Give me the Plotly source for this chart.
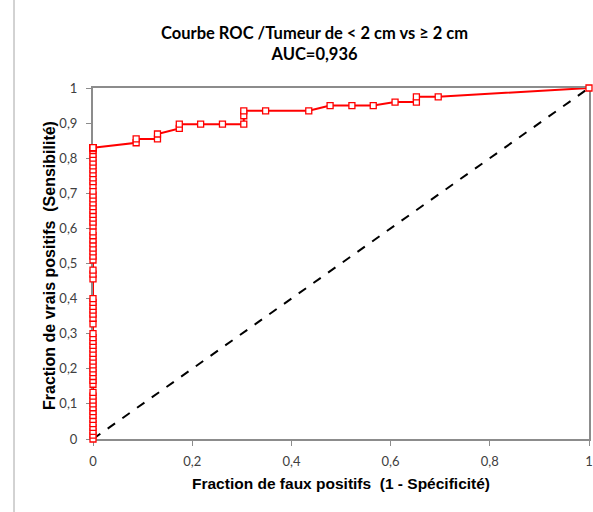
import plotly.graph_objects as go

# ROC points (1 - specificity, sensitivity)
fpr = [0.0] * 74 + [
    0.087, 0.087, 0.130, 0.130, 0.174, 0.174, 0.217, 0.261, 0.304, 0.304, 0.304,
    0.348, 0.435, 0.478, 0.522, 0.565, 0.609, 0.652, 0.652, 0.696, 1.0]

tpr_col = [
    0.0, 0.011, 0.022, 0.033, 0.044, 0.056, 0.067, 0.078, 0.089, 0.100, 0.111, 0.122, 0.133,
    0.156, 0.167, 0.178, 0.189, 0.200, 0.211, 0.222, 0.233, 0.244, 0.256, 0.267, 0.278, 0.289, 0.300,
    0.328, 0.344, 0.356, 0.367, 0.378, 0.389, 0.400,
    0.456, 0.470, 0.481,
    0.510, 0.521, 0.533, 0.544, 0.556, 0.567, 0.579, 0.590,
    0.607, 0.618, 0.629, 0.640, 0.651, 0.662, 0.673, 0.684, 0.695, 0.706,
    0.722, 0.733, 0.744, 0.756, 0.767, 0.778, 0.789, 0.800, 0.811, 0.822, 0.830,
    0.830, 0.830, 0.830, 0.830, 0.830, 0.830, 0.830, 0.830]
tpr_top = [
    0.844, 0.855, 0.855, 0.869, 0.885, 0.897, 0.897, 0.897, 0.897, 0.921, 0.935,
    0.935, 0.935, 0.950, 0.950, 0.950, 0.960, 0.960, 0.975, 0.975, 1.0]
tpr = tpr_col + tpr_top

diag_x = [0, 1]
diag_y = [0, 1]

x_ticks = [0, 0.2, 0.4, 0.6, 0.8, 1]
x_labels = ["0", "0,2", "0,4", "0,6", "0,8", "1"]
y_ticks = [0, 0.1, 0.2, 0.3, 0.4, 0.5, 0.6, 0.7, 0.8, 0.9, 1]
y_labels = ["0", "0,1", "0,2", "0,3", "0,4", "0,5", "0,6", "0,7", "0,8", "0,9", "1"]

title_l1 = "Courbe ROC /Tumeur de < 2 cm vs ≥ 2 cm"
title_l2 = "AUC=0,936"
x_title = "Fraction de faux positifs  (1 - Spécificité)"
y_title = "Fraction de vrais positifs  (Sensibilité)"

fig = go.Figure()
fig.add_trace(go.Scatter(
    x=diag_x, y=diag_y, mode="lines",
    line=dict(color="black", width=2, dash="dash"),
    hoverinfo="skip", showlegend=False))
fig.add_trace(go.Scatter(
    x=fpr, y=tpr, mode="lines+markers",
    line=dict(color="#FF0000", width=2),
    marker=dict(symbol="square", size=6, color="white",
                line=dict(color="#FF0000", width=1.3)),
    cliponaxis=False,
    showlegend=False))

W, H = 593, 512
L, R, T, B = 93, 4, 88, 73
pw, ph = W - L - R, H - T - B

def px(xp):
    return (xp - L) / pw

def py(yp):
    return (H - B - yp) / ph

axis_common = dict(
    showline=True, linecolor="#8c8c8c", linewidth=2, mirror=True,
    showgrid=False, zeroline=False, layer="below traces",
    ticks="outside", ticklen=5, tickcolor="#8c8c8c", tickwidth=1,
    tickfont=dict(family="Lato, Open Sans, sans-serif", size=13, color="#404040"),
)

fig.update_layout(
    width=W, height=H,
    margin=dict(l=L, r=R, t=T, b=B, autoexpand=False),
    paper_bgcolor="white", plot_bgcolor="white",
    xaxis=dict(range=[0, 1], tickvals=x_ticks, ticktext=x_labels,
               ticklabelstandoff=4, **axis_common),
    yaxis=dict(range=[0, 1], tickvals=y_ticks, ticktext=y_labels,
               ticklabelstandoff=6, **axis_common),
    annotations=[
        dict(text="<b>" + title_l1 + "</b><br><b>" + title_l2 + "</b>",
             xref="paper", yref="paper", x=px(314), y=py(43),
             xanchor="center", yanchor="middle", showarrow=False,
             font=dict(family="Lato, Open Sans, sans-serif", size=16.5, color="black")),
        dict(text="<b>" + x_title + "</b>",
             xref="paper", yref="paper", x=px(341), y=py(483),
             xanchor="center", yanchor="middle", showarrow=False,
             font=dict(family="Liberation Sans, Arial, sans-serif", size=15.5, color="black")),
        dict(text="<b>" + y_title + "</b>", textangle=-90,
             xref="paper", yref="paper", x=px(49), y=py(266),
             xanchor="center", yanchor="middle", showarrow=False,
             font=dict(family="Liberation Sans, Arial, sans-serif", size=16, color="black")),
    ],
    shapes=[
        dict(type="line", xref="paper", yref="paper",
             x0=px(14), x1=px(14), y0=py(512), y1=py(0),
             line=dict(color="#a6a6a6", width=1)),
    ],
)

fig.write_html("out.html")
